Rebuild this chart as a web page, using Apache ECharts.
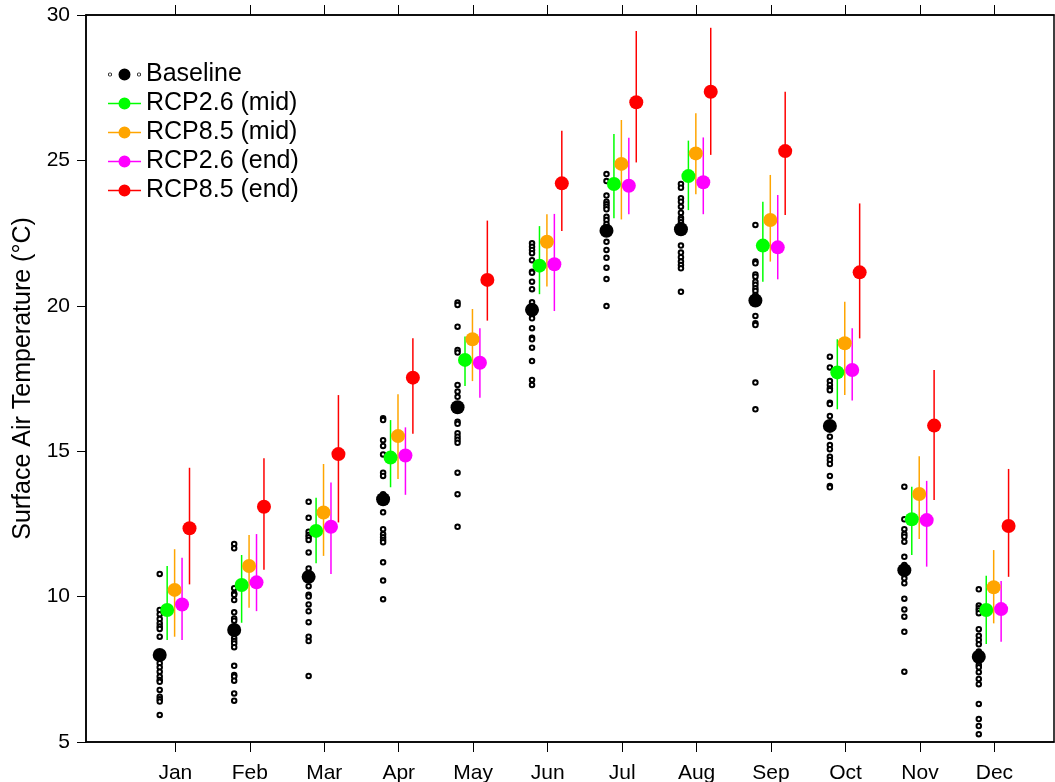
<!DOCTYPE html>
<html>
<head>
<meta charset="utf-8">
<script src="https://cdn.jsdelivr.net/npm/echarts@6/dist/echarts.min.js"></script>
<style>
  html, body { margin: 0; padding: 0; background: #fff; }
  #chart { width: 1055px; height: 782px; }
</style>
</head>
<body>
<div id="chart"></div>
<script>
const months = ['Jan', 'Feb', 'Mar', 'Apr', 'May', 'Jun', 'Jul', 'Aug', 'Sep', 'Oct', 'Nov', 'Dec'];
const yTicks = [5, 10, 15, 20, 25, 30];

// baseline ensemble members (open circles), one list per month
const baselineMembers = [
  [10.78, 9.54, 9.39, 9.23, 9.08, 8.97, 8.89, 8.62, 7.71, 7.57, 7.42, 7.25, 7.13, 7.07, 6.79, 6.56, 6.47, 6.39, 5.93],
  [11.81, 11.66, 10.29, 10.11, 10.06, 9.88, 9.46, 9.25, 9.17, 8.57, 8.47, 8.39, 8.26, 7.62, 7.30, 7.25, 7.11, 6.67, 6.42],
  [13.26, 12.71, 12.23, 12.12, 12.04, 11.95, 11.52, 10.97, 10.36, 10.06, 10.00, 9.73, 9.50, 9.12, 8.62, 8.47, 7.27],
  [16.13, 16.07, 15.38, 15.18, 14.89, 14.26, 14.15, 13.52, 13.46, 12.90, 12.32, 12.14, 12.04, 11.95, 11.87, 11.18, 10.55, 9.91],
  [20.11, 20.03, 19.28, 18.48, 18.39, 17.28, 17.05, 16.87, 16.01, 15.94, 15.62, 15.50, 15.39, 15.29, 14.26, 13.52, 12.40],
  [22.15, 22.03, 21.92, 21.81, 21.57, 21.17, 21.14, 20.83, 20.57, 20.12, 19.68, 19.57, 19.23, 18.90, 18.85, 18.56, 18.10, 17.45, 17.28],
  [24.53, 24.29, 23.79, 23.58, 23.49, 23.41, 23.32, 23.06, 22.95, 22.81, 22.49, 22.20, 21.92, 21.65, 21.31, 20.92, 19.99],
  [24.19, 24.06, 23.70, 23.58, 23.41, 23.20, 23.03, 22.97, 22.87, 22.78, 22.07, 21.83, 21.67, 21.52, 21.40, 21.29, 20.48],
  [22.78, 21.52, 21.46, 21.08, 21.00, 20.83, 20.72, 20.60, 20.51, 20.37, 20.14, 19.65, 19.40, 19.34, 17.36, 16.44],
  [18.25, 17.88, 17.41, 17.28, 17.16, 17.10, 16.67, 16.62, 16.21, 15.50, 15.21, 15.07, 14.81, 14.70, 14.56, 14.15, 13.80, 13.76],
  [13.78, 12.66, 12.32, 12.15, 12.06, 11.89, 11.37, 11.09, 10.95, 10.78, 10.63, 10.46, 9.93, 9.56, 9.31, 8.79, 7.42],
  [10.25, 9.69, 9.60, 9.52, 9.43, 8.88, 8.65, 8.51, 8.36, 8.11, 7.65, 7.57, 7.40, 7.17, 6.99, 6.31, 5.79, 5.55, 5.27]
];
const baselineMean = [7.99, 8.85, 10.68, 13.35, 16.51, 19.86, 22.58, 22.63, 20.18, 15.87, 10.91, 7.93];

const rcp26MidMean = [9.54, 10.40, 12.26, 14.78, 18.14, 21.38, 24.19, 24.46, 22.07, 17.71, 12.66, 9.54];
const rcp26MidLow  = [8.51, 9.10, 11.15, 13.76, 17.24, 20.40, 23.01, 23.29, 20.83, 16.44, 11.43, 8.37];
const rcp26MidHigh = [11.05, 11.43, 13.40, 16.07, 18.94, 22.74, 25.91, 25.68, 23.58, 18.85, 13.78, 10.72];

const rcp85MidMean = [10.23, 11.05, 12.89, 15.52, 18.85, 22.20, 24.88, 25.24, 22.95, 18.71, 13.53, 10.32];
const rcp85MidLow  = [8.62, 9.62, 11.40, 14.04, 17.41, 20.66, 22.97, 23.84, 21.52, 16.93, 11.98, 9.08];
const rcp85MidHigh = [11.63, 12.12, 14.56, 16.96, 19.89, 23.15, 26.39, 26.62, 24.50, 20.14, 14.83, 11.60];

const rcp26EndMean = [9.73, 10.49, 12.40, 14.85, 18.04, 21.43, 24.13, 24.25, 22.01, 17.79, 12.63, 9.57];
const rcp26EndLow  = [8.51, 9.50, 10.78, 13.50, 16.84, 19.82, 23.15, 23.15, 20.91, 16.74, 11.03, 8.45];
const rcp26EndHigh = [11.34, 12.15, 13.92, 15.82, 19.23, 23.16, 25.78, 25.79, 23.81, 19.23, 13.98, 10.54];

const rcp85EndMean = [12.35, 13.09, 14.90, 17.53, 20.89, 24.21, 27.00, 27.36, 25.32, 21.15, 15.88, 12.43];
const rcp85EndLow  = [10.42, 10.92, 12.55, 15.60, 19.49, 22.57, 24.93, 25.19, 23.12, 18.88, 13.32, 10.68];
const rcp85EndHigh = [14.43, 14.76, 16.93, 18.88, 22.93, 26.02, 29.45, 29.56, 27.36, 23.52, 17.79, 14.39];

const FONT = 'Liberation Sans, Arial, sans-serif';
const monthPos = months.map((m, i) => i + 1);

// legend icons: "o ● o" for baseline, line + dot for the scenarios
const baselineIcon = 'path://M0,6a2,2 0 1,0 4,0a2,2 0 1,0 -4,0Z M0.8,6a1.2,1.2 0 1,1 2.4,0a1.2,1.2 0 1,1 -2.4,0Z ' +
  'M10.5,6a6,6 0 1,0 12,0a6,6 0 1,0 -12,0Z ' +
  'M29,6a2,2 0 1,0 4,0a2,2 0 1,0 -4,0Z M29.8,6a1.2,1.2 0 1,1 2.4,0a1.2,1.2 0 1,1 -2.4,0Z';
const scenarioIcon = 'path://M0,5.2h33v1.6h-33Z M10.5,6a6,6 0 1,1 12,0a6,6 0 1,1 -12,0Z';

const scenarios = [
  { name: 'RCP2.6 (mid)', color: '#00FF00', off: -0.11, mean: rcp26MidMean, low: rcp26MidLow, high: rcp26MidHigh },
  { name: 'RCP8.5 (mid)', color: '#FFA500', off: -0.01, mean: rcp85MidMean, low: rcp85MidLow, high: rcp85MidHigh },
  { name: 'RCP2.6 (end)', color: '#FF00FF', off: 0.09, mean: rcp26EndMean, low: rcp26EndLow, high: rcp26EndHigh },
  { name: 'RCP8.5 (end)', color: '#FF0000', off: 0.19, mean: rcp85EndMean, low: rcp85EndLow, high: rcp85EndHigh }
];
const baseOff = -0.21;

const series = [];
// baseline mean first so the legend takes its style
series.push({
  name: 'Baseline',
  type: 'scatter',
  symbol: 'circle',
  symbolSize: 14,
  itemStyle: { color: '#000', opacity: 1 },
  z: 5,
  data: baselineMean.map((v, i) => [monthPos[i] + baseOff, v])
});
const memberData = [];
baselineMembers.forEach((list, i) => {
  list.forEach(v => memberData.push([monthPos[i] + baseOff, v]));
});
series.push({
  name: 'Baseline',
  type: 'scatter',
  symbol: 'emptyCircle',
  symbolSize: 4.5,
  itemStyle: { color: '#000', borderWidth: 1, opacity: 1 },
  z: 3,
  data: memberData
});

scenarios.forEach(s => {
  // error bar (range)
  series.push({
    name: s.name,
    type: 'custom',
    z: 2,
    itemStyle: { color: s.color },
    renderItem: function (params, api) {
      const x = api.value(0);
      const p1 = api.coord([x, api.value(1)]);
      const p2 = api.coord([x, api.value(2)]);
      return {
        type: 'line',
        shape: { x1: p1[0], y1: p1[1], x2: p2[0], y2: p2[1] },
        style: { stroke: s.color, lineWidth: 1.5 }
      };
    },
    encode: { x: 0, y: [1, 2] },
    data: s.low.map((v, i) => [monthPos[i] + s.off, v, s.high[i]])
  });
  series.push({
    name: s.name,
    type: 'scatter',
    symbol: 'circle',
    symbolSize: 14,
    itemStyle: { color: s.color, opacity: 1 },
    z: 4,
    data: s.mean.map((v, i) => [monthPos[i] + s.off, v])
  });
});

const xCommon = {
  type: 'value',
  min: -0.2,
  max: 12.8,
  splitLine: { show: false },
  axisLine: { onZero: false, lineStyle: { color: '#000', width: 1.5 } }
};

const myChart = echarts.init(document.getElementById('chart'));
myChart.setOption({
  animation: false,
  textStyle: { fontFamily: FONT },
  grid: {
    left: 86, right: 1, top: 15, bottom: 40,
    outerBoundsMode: 'none',
    containLabel: false,
    show: true, borderColor: '#000', borderWidth: 1.5
  },
  legend: {
    orient: 'vertical',
    left: 103,
    top: 57,
    itemWidth: 33,
    itemHeight: 12,
    itemGap: 4,
    textStyle: { fontSize: 25, lineHeight: 22, color: '#000', fontFamily: FONT },
    data: [
      { name: 'Baseline', icon: baselineIcon },
      ...scenarios.map(s => ({ name: s.name, icon: scenarioIcon }))
    ]
  },
  xAxis: [
    Object.assign({}, xCommon, {
      position: 'bottom',
      axisTick: { show: true, length: 10, customValues: monthPos, lineStyle: { color: '#000', width: 1 } },
      axisLabel: {
        show: true, customValues: monthPos, margin: 21, fontSize: 21, color: '#000',
        formatter: v => months[Math.round(v) - 1] || ''
      }
    }),
    Object.assign({}, xCommon, {
      position: 'top',
      axisTick: { show: true, length: 10, customValues: monthPos, lineStyle: { color: '#000', width: 1 } },
      axisLabel: { show: false }
    })
  ],
  yAxis: {
    type: 'value',
    min: 5,
    max: 30,
    interval: 5,
    name: 'Surface Air Temperature (\u00B0C)',
    nameLocation: 'middle',
    nameGap: 48,
    nameTextStyle: { fontSize: 25, color: '#000', fontFamily: FONT },
    splitLine: { show: false },
    axisLine: { show: true, onZero: false, lineStyle: { color: '#000', width: 1.5 } },
    axisTick: { show: true, length: 9, lineStyle: { color: '#000', width: 1 } },
    axisLabel: { margin: 16, fontSize: 21, color: '#000' },
    data: yTicks
  },
  series
});
window.addEventListener('resize', () => myChart.resize());
</script>
</body>
</html>
